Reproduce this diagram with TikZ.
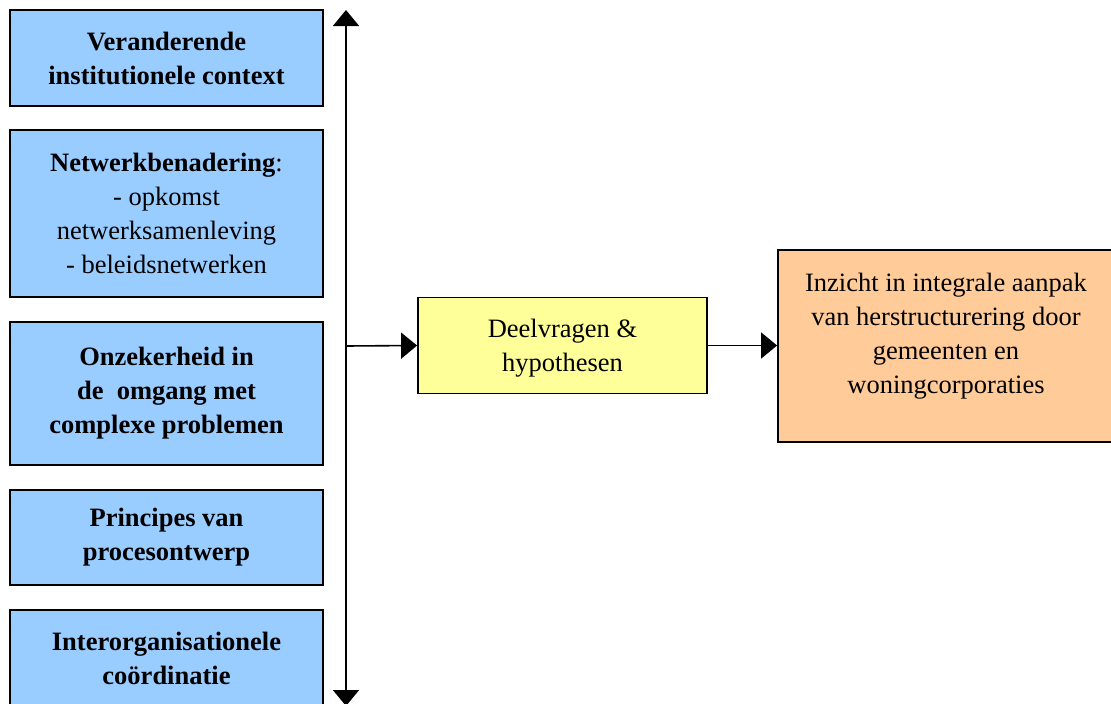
\documentclass[tikz,border=0pt]{standalone}
\usepackage{fontspec}
\setmainfont{Liberation Serif}
\usetikzlibrary{arrows.meta}
\definecolor{themeblue}{HTML}{99CCFF}
\definecolor{questionyellow}{HTML}{FFFF99}
\definecolor{resultorange}{HTML}{FFCC99}
\begin{document}
\begin{tikzpicture}[x=1pt,y=-1pt,
  basebox/.style={draw=black,line width=1.8pt,inner sep=0pt,align=center,
    font=\fontsize{26.5}{34}\selectfont},
  theme/.style={basebox,fill=themeblue,minimum width=313pt,font=\fontsize{26.5}{34}\selectfont\bfseries},
  themeplain/.style={basebox,fill=themeblue,minimum width=313pt},
  question/.style={basebox,fill=questionyellow},
  result/.style={basebox,fill=resultorange},
  plaintext/.style={inner sep=0pt,align=center,font=\fontsize{26.5}{34}\selectfont},
  flow/.style={line width=1.6pt,-{Triangle[width=26pt,length=16pt]}},
  axis/.style={line width=1.6pt,{Triangle[width=26pt,length=16pt]}-{Triangle[width=26pt,length=16pt]}}]
\useasboundingbox (0,0) rectangle (1111,704);

% left column of themes
\node[theme,minimum height=96pt]  (context) at (166.5,58)   {Veranderende\\institutionele context};
\node[themeplain,minimum height=167pt] (network) at (166.5,213.5) {{\bfseries Netwerkbenadering}:\\- opkomst\\netwerksamenleving\\- beleidsnetwerken};
\node[theme,minimum height=143pt] (uncert)  at (166.5,393.5) {Onzekerheid in\\de\ \ omgang met\\complexe problemen};
\node[theme,minimum height=95pt]  (design)  at (166.5,537.5) {Principes van\\procesontwerp};
\node[theme,minimum height=96pt]  (coord)   at (166.5,658)   {Interorganisationele\\coördinatie};

% vertical axis with arrow heads at both ends
\coordinate (axistop) at (346,10);
\coordinate (axisbot) at (346,706);
\coordinate (axismid) at (346,346);
\draw[axis] (axisbot) -- (axistop);

% middle and right boxes
\node[question,minimum width=289pt,minimum height=96pt] (sub) at (562.5,345.5) {};
\node[plaintext] (subtext) at (562.5,348) {Deelvragen \&\\hypothesen};
\node[result,minimum width=336pt,minimum height=192pt] (insight) at (946,346) {};
\node[plaintext] (insighttext) at (946,336) {Inzicht in integrale aanpak\\van herstructurering door\\gemeenten en\\woningcorporaties};

\draw[flow] (axismid) -- (sub.west);
\draw[flow] (sub.east) -- (sub.east -| insight.west);
\end{tikzpicture}
\end{document}
